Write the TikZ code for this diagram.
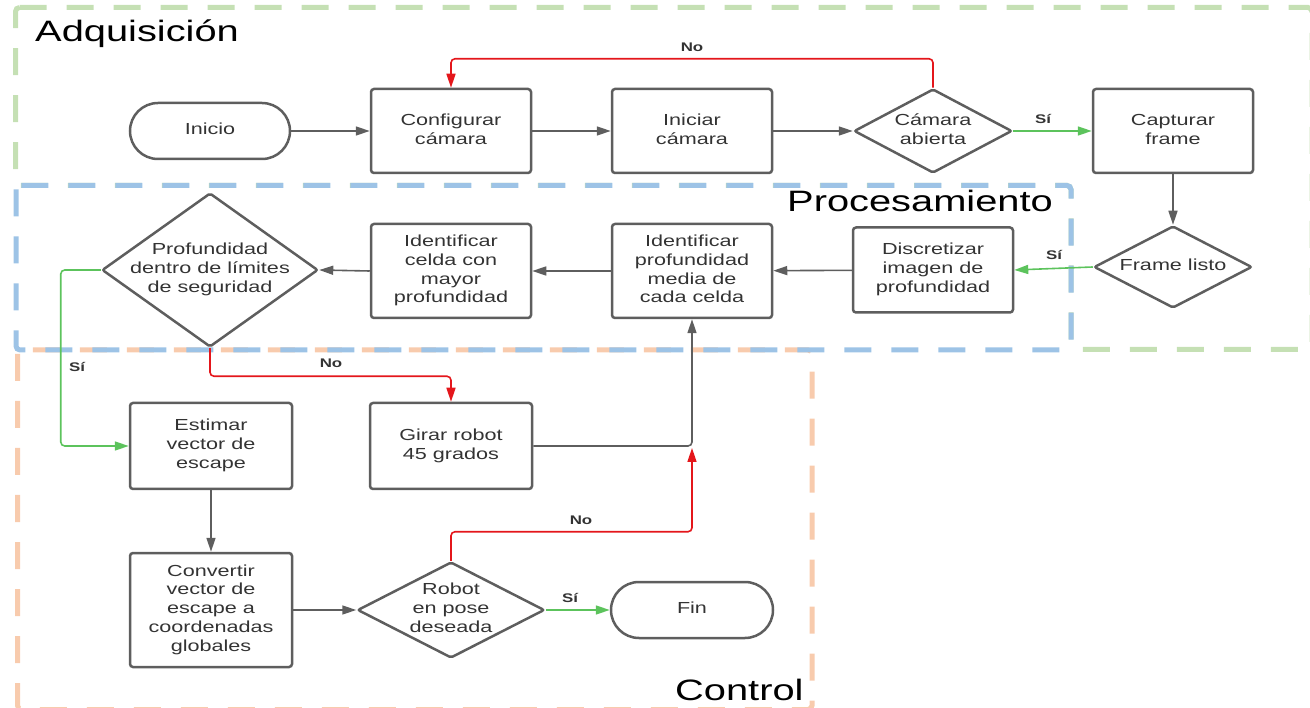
\documentclass[tikz,border=0pt]{standalone}
\usepackage{fontspec}
\setmainfont{Liberation Sans}
\usetikzlibrary{shapes.geometric,arrows.meta}
\newcommand{\sx}[1]{\scalebox{1.35}[1]{\begin{tabular}{@{}c@{}}#1\end{tabular}}}
\definecolor{boxgray}{HTML}{5E5E5E}
\definecolor{txtgray}{HTML}{333333}
\definecolor{redline}{HTML}{E4161B}
\definecolor{greenline}{HTML}{5CC35C}
\definecolor{regiongreen}{HTML}{C5E0B4}
\definecolor{regionblue}{HTML}{9DC3E6}
\definecolor{regionorange}{HTML}{F8CBAD}
\tikzset{
  region/.style={line width=5pt, dash pattern=on 27pt off 20pt, rounded corners=4pt},
  stepbox/.style={draw=boxgray, line width=2.5pt, rounded corners=3pt, inner sep=0pt,
    minimum width=160pt, minimum height=84pt, text=txtgray,
    font=\fontsize{16}{18.8}\selectfont},
  term/.style={stepbox, rounded corners=28pt, minimum height=56pt},
  dia/.style={draw=boxgray, line width=2.5pt, diamond, inner sep=0pt, rounded corners=2pt,
    label distance=0pt, label={[text=txtgray, font=\fontsize{16}{18.8}\selectfont]center:#1}},
  conn/.style={draw=boxgray, line width=1.6pt, -{Triangle[length=14pt,width=9pt]}},
  yes/.style={conn, draw=greenline, -{Triangle[length=14pt,width=9pt]}, rounded corners=4pt},
  no/.style={conn, draw=redline, rounded corners=4pt},
  lbl/.style={font=\bfseries\fontsize{12.5}{14}\selectfont, text=txtgray, inner sep=0pt},
  title/.style={font=\fontsize{29.5}{32}\selectfont, anchor=base west, inner sep=0pt}
}
\begin{document}
\begin{tikzpicture}[x=1pt,y=-1pt]
\useasboundingbox (0,0) rectangle (1310,708);
% regions
\draw[region, draw=regiongreen] (15.5,7.5) -- (1312,7.5) -- (1312,349.5) -- (1071,349.5) -- (1071,185.5) -- (15.5,185.5) -- cycle;
\draw[region, draw=regionorange] (17.5,350) rectangle (812,709.5);
\draw[region, draw=regionblue] (16,185.5) rectangle (1071,350);
\node[title] (tadq) at (35,42) {\scalebox{1.35}[1]{Adquisición}};
\node[title] (tproc) at (787,212) {\scalebox{1.35}[1]{Procesamiento}};
\node[title] (tctrl) at (675,700) {\scalebox{1.35}[1]{Control}};
% row 1
\node[term] (ini) at (210,131) {\sx{Inicio}};
\node[stepbox] (conf) at (451,131) {\sx{Configurar\\cámara}};
\node[stepbox] (inic) at (692,131) {\sx{Iniciar\\cámara}};
\node[dia={\sx{Cámara\\abierta}}, minimum width=158pt, minimum height=84pt] (cam) at (933,131) {};
\node[stepbox] (capt) at (1173,131) {\sx{Capturar\\frame}};
% row 2
\node[dia={\sx{Frame listo}}, minimum width=158pt, minimum height=82pt] (flis) at (1173,267) {};
\node[stepbox, minimum height=85pt] (disc) at (933,270) {\sx{Discretizar\\imagen de\\profundidad}};
\node[stepbox, minimum height=94pt] (med) at (692,271) {\sx{Identificar\\profundidad\\media de\\cada celda}};
\node[stepbox, minimum height=94pt] (cel) at (451,271) {\sx{Identificar\\celda con\\mayor\\profundidad}};
\node[dia={\sx{Profundidad\\dentro de límites\\de seguridad}}, minimum width=216pt, minimum height=154pt] (prof) at (210,270) {};
% row 3
\node[stepbox, minimum width=162pt, minimum height=86pt] (est) at (211,446) {\sx{Estimar\\vector de\\escape}};
\node[stepbox, minimum width=162pt, minimum height=86pt] (gir) at (451,446) {\sx{Girar robot\\45 grados}};
\node[stepbox, minimum width=162pt, minimum height=114pt] (conv) at (211,610) {\sx{Convertir\\vector de\\escape a\\coordenadas\\globales}};
\node[dia={\sx{Robot\\en pose\\deseada}}, minimum width=187pt, minimum height=96pt] (rob) at (451,610) {};
\node[term, minimum width=162pt] (fin) at (692,610) {\sx{Fin}};
\coordinate (noend) at (692,448);
% connectors
\draw[conn] (ini) -- (conf);
\draw[conn] (conf) -- (inic);
\draw[conn] (inic) -- (cam);
\draw[yes] (cam.east) -- (capt.west);
\draw[no] (cam.north) -- ++(0,-29) -| (conf.north);
\draw[conn] (capt) -- (flis);
\draw[yes] (flis.west) -- (disc.east);
\draw[conn] (disc) -- (med);
\draw[conn] (med) -- (cel);
\draw[conn] (cel.west) -- (prof.east);
\draw[yes] (prof.west) -- ++(-40,0) |- (est.west);
\draw[no] (prof.south) -- ++(0,28) -| (gir.north);
\draw[conn] (est) -- (conv);
\draw[conn] (conv.east) -- (rob.west);
\draw[yes] (rob.east) -- (fin.west);
\draw[no] (rob.north) -- ++(0,-29) -| (noend);
\draw[conn, rounded corners=4pt] (gir.east) -| (med.south);
% labels
\node[lbl] (l1) at (692,47) {\scalebox{1.35}[1]{No}};
\node[lbl] (l2) at (1043,119) {\scalebox{1.35}[1]{Sí}};
\node[lbl] (l3) at (1054,255) {\scalebox{1.35}[1]{Sí}};
\node[lbl] (l4) at (77,367) {\scalebox{1.35}[1]{Sí}};
\node[lbl] (l5) at (331,363) {\scalebox{1.35}[1]{No}};
\node[lbl] (l6) at (570,598) {\scalebox{1.35}[1]{Sí}};
\node[lbl] (l7) at (581,520) {\scalebox{1.35}[1]{No}};
\end{tikzpicture}
\end{document}
